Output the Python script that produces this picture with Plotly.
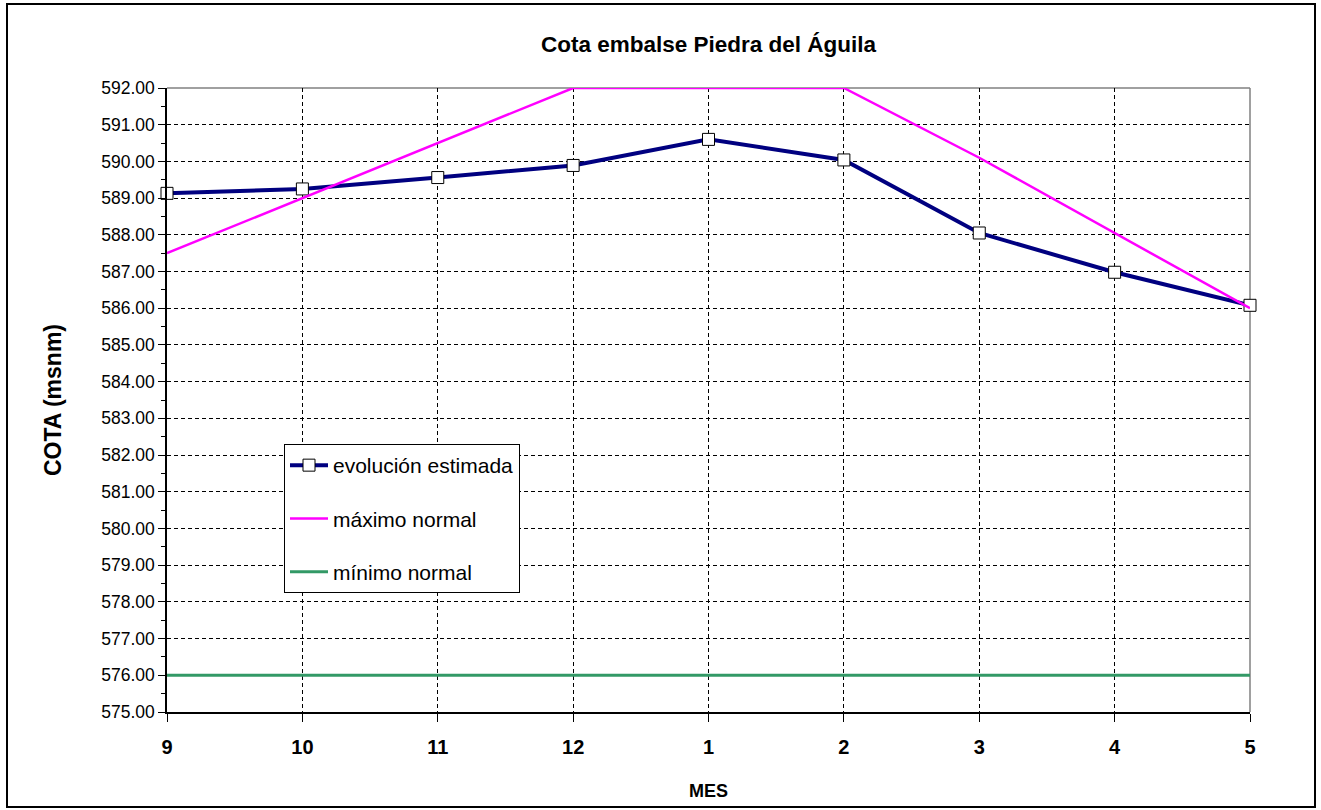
import plotly.graph_objects as go

meses = ["9", "10", "11", "12", "1", "2", "3", "4", "5"]
evolucion = [589.13, 589.25, 589.56, 589.89, 590.60, 590.04, 588.05, 586.98, 586.08]
maximo = [587.5, 589.0, 590.5, 592.0, 592.0, 592.0, 590.1, 588.05, 586.0]
minimo = [576.0, 576.0, 576.0, 576.0, 576.0, 576.0, 576.0, 576.0, 576.0]

FONT = "Liberation Sans, Arial, sans-serif"
W, H = 1321, 810
L, R, T, B = 167, 71, 88, 98
PW, PH = W - L - R, H - T - B


def px_x(p):
    return (p - L) / PW


def px_y(p):
    return (H - B - p) / PH


fig = go.Figure()
fig.add_trace(go.Scatter(
    x=meses, y=evolucion, name="evolución estimada", mode="lines+markers",
    line=dict(color="#000080", width=4),
    marker=dict(symbol="square", size=12, color="white", line=dict(color="black", width=1)),
    cliponaxis=False, legendgroup="a"))
fig.add_trace(go.Scatter(
    x=meses, y=maximo, name="máximo normal", mode="lines",
    line=dict(color="#FF00FF", width=2.5), cliponaxis=False, legendgroup="b"))
fig.add_trace(go.Scatter(
    x=meses, y=minimo, name="mínimo normal", mode="lines",
    line=dict(color="#339966", width=3), cliponaxis=False, legendgroup="c"))

fig.update_layout(
    width=W, height=H, autosize=False,
    margin=dict(l=L, r=R, t=T, b=B),
    paper_bgcolor="white", plot_bgcolor="white",
    font=dict(family=FONT, color="black"),
    title=dict(text="<b>Cota embalse Piedra del Águila</b>", x=0.5, xref="paper",
               y=1 - 44 / H, yanchor="middle", font=dict(size=22.5, family=FONT, color="black")),
    showlegend=True,
    legend=dict(x=px_x(284), y=px_y(444), xanchor="left", yanchor="top",
                bgcolor="white", bordercolor="black", borderwidth=1,
                font=dict(size=21, family=FONT, color="black"),
                itemwidth=38,
                tracegroupgap=23, traceorder="grouped"),
    xaxis=dict(type="category", range=[0, 8], showgrid=True, gridcolor="black",
               griddash="4px,3px", gridwidth=1, showline=True, linecolor="black",
               linewidth=1.5, ticks="outside", ticklen=8, tickcolor="black",
               tickfont=dict(size=20, family=FONT, color="black"),
               ticklabelstandoff=8,
               tickprefix="<b>", ticksuffix="</b>",
               title=dict(text="<b>MES</b>", font=dict(size=18, family=FONT, color="black"), standoff=28),
               zeroline=False),
    yaxis=dict(range=[575, 592], dtick=1, tick0=575, tickformat=".2f", showgrid=True,
               gridcolor="black", griddash="4px,3px", gridwidth=1, showline=True,
               linecolor="black", linewidth=1.5, ticks="outside", ticklen=7,
               tickcolor="black", tickfont=dict(size=17.5, family=FONT, color="black"),
               minor=dict(dtick=0.5, ticks="outside", ticklen=4, tickcolor="black", showgrid=False),
               title=dict(text="<b>COTA (msnm)</b>", font=dict(size=23, family=FONT, color="black"), standoff=33),
               zeroline=False),
    shapes=[
        dict(type="line", xref="paper", yref="paper", x0=0, x1=1, y0=1, y1=1,
             line=dict(color="#808080", width=1.5), layer="between"),
        dict(type="line", xref="paper", yref="paper", x0=1, x1=1, y0=0, y1=1,
             line=dict(color="#808080", width=1.5), layer="between"),
        dict(type="rect", xref="paper", yref="paper", x0=px_x(7), x1=px_x(1315),
             y0=px_y(807), y1=px_y(4), line=dict(color="black", width=2),
             fillcolor="rgba(0,0,0,0)", layer="above"),
    ],
)

fig.write_html("out.html", config={"displayModeBar": False},
               post_script="document.body.style.margin='0';")
